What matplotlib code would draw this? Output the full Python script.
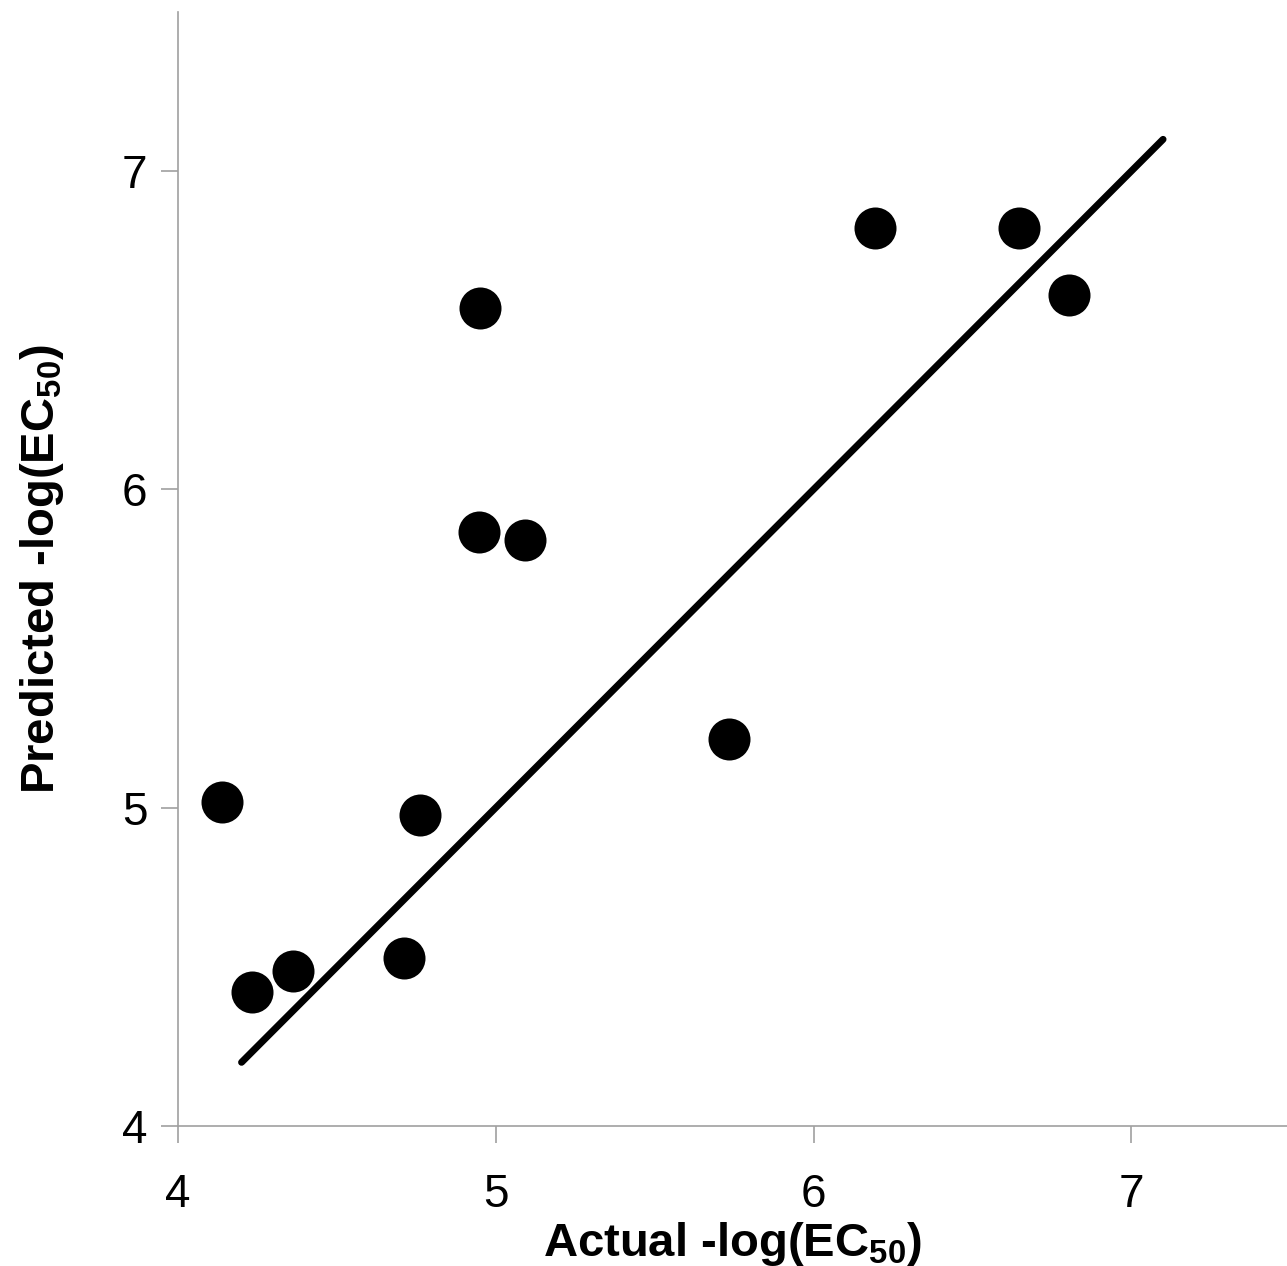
import matplotlib
matplotlib.use("Agg")
import matplotlib.pyplot as plt

actual = [4.138, 4.233, 4.362, 4.711, 4.762, 4.951, 4.947, 5.092, 5.734, 6.194, 6.647, 6.804]
predicted = [5.017, 4.42, 4.487, 4.528, 4.976, 6.569, 5.865, 5.840, 5.217, 6.821, 6.821, 6.610]
fit_x = [4.2, 7.1]
fit_y = [4.2, 7.1]
ticks = [4, 5, 6, 7]

plt.rcParams['font.family'] = ['Liberation Sans', 'DejaVu Sans']
plt.rcParams['mathtext.fontset'] = 'custom'
plt.rcParams['mathtext.rm'] = 'Liberation Sans'
plt.rcParams['mathtext.bf'] = 'Liberation Sans:bold'

fig = plt.figure(figsize=(12.87, 12.66), dpi=100)
ax = fig.add_axes([0.1383, 0.1106, 0.8617, 0.8799])
ax.set_xlim(4, 7.49)
ax.set_ylim(4, 7.5)
ax.plot(fit_x, fit_y, color='black', lw=5, solid_capstyle='round', zorder=2)
ax.scatter(actual, predicted, s=915, color='black', zorder=3, linewidths=0)

for s in ['top', 'right']:
    ax.spines[s].set_visible(False)
for s in ['left', 'bottom']:
    ax.spines[s].set_color('#a0a0a0')
    ax.spines[s].set_linewidth(1.2)
ax.set_xticks(ticks)
ax.set_yticks(ticks)
ax.tick_params(direction='out', length=12, width=1.2, color='#a0a0a0', labelsize=33)
ax.tick_params(axis='y', pad=10)
ax.tick_params(axis='x', pad=22)
ax.set_xlabel(r'Actual -log(EC$_{\mathbf{50}}$)', fontsize=34, fontweight='bold', labelpad=2)
ax.set_ylabel(r'Predicted -log(EC$_{\mathbf{50}}$)', fontsize=34, fontweight='bold', labelpad=40)
fig.savefig('out.png', dpi=100)
